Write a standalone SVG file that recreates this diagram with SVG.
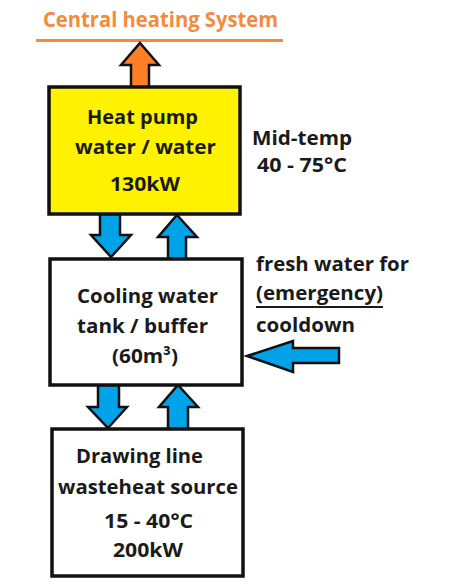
<svg xmlns="http://www.w3.org/2000/svg" width="450" height="587" viewBox="0 0 450 587">
<style>
.t{font-family:"Open Sans","Liberation Sans",sans-serif;font-weight:bold;font-size:20px;fill:#1a1a1a}
.box{stroke:#111;stroke-width:3.5}
.blue{fill:#00A2E8;stroke:#111;stroke-width:2.5;stroke-linejoin:miter}
.orange{fill:#FF7F27;stroke:#111;stroke-width:2.5;stroke-linejoin:miter}
</style>
<rect width="450" height="587" fill="#fff"/>
<g id="title">
<text class="t" x="43" y="27" textLength="235" lengthAdjust="spacingAndGlyphs" style="fill:#F58A3C;font-size:21px">Central heating System</text>
<line x1="36" y1="40.5" x2="283" y2="40.5" stroke="#F58A3C" stroke-width="3"/>
</g>
<g id="connectors">
<polygon class="orange" points="140,43 159,65 149,65 149,88 131,88 131,65 121,65"/>
<polygon class="blue" points="100,214 120,214 120,235 131,235 111,257 91,235 100,235"/>
<polygon class="blue" points="177,215 197,237 186,237 186,259 168,259 168,237 158,237"/>
<polygon class="blue" points="247,356 293,341 293,348 339,348 339,363 293,363 293,372"/>
<polygon class="blue" points="98,385 119,385 119,407 127,407 108,428 88,407 98,407"/>
<polygon class="blue" points="178,385 198,407 188,407 188,429 168,429 168,407 159,407"/>
</g>
<g id="heatpump">
<rect class="box" x="49" y="87" width="191" height="127" fill="#FFF200"/>
<text class="t" x="87" y="124" textLength="111" lengthAdjust="spacingAndGlyphs">Heat pump</text>
<text class="t" x="75" y="154" textLength="141" lengthAdjust="spacingAndGlyphs">water / water</text>
<text class="t" x="110" y="191" textLength="70" lengthAdjust="spacingAndGlyphs">130kW</text>
</g>
<g id="midtemp">
<text class="t" x="252" y="145" textLength="100" lengthAdjust="spacingAndGlyphs">Mid-temp</text>
<text class="t" x="257" y="172" textLength="90" lengthAdjust="spacingAndGlyphs">40 - 75°C</text>
</g>
<g id="tank">
<rect class="box" x="50" y="259" width="192" height="126" fill="#fff"/>
<text class="t" x="77" y="303" textLength="141" lengthAdjust="spacingAndGlyphs">Cooling water</text>
<text class="t" x="77" y="333" textLength="131" lengthAdjust="spacingAndGlyphs">tank / buffer</text>
<text class="t" x="112" y="363" textLength="66" lengthAdjust="spacingAndGlyphs">(60m³)</text>
</g>
<g id="freshwater">
<text class="t" x="256" y="271" textLength="153" lengthAdjust="spacingAndGlyphs">fresh water for</text>
<text class="t" x="256" y="300" textLength="127" lengthAdjust="spacingAndGlyphs">(emergency)</text>
<line x1="256" y1="307" x2="383" y2="307" stroke="#1a1a1a" stroke-width="1.8"/>
<text class="t" x="256" y="332" textLength="99" lengthAdjust="spacingAndGlyphs">cooldown</text>
</g>
<g id="source">
<rect class="box" x="52" y="429" width="191" height="147" fill="#fff"/>
<text class="t" x="76" y="463" textLength="127" lengthAdjust="spacingAndGlyphs">Drawing line</text>
<text class="t" x="58" y="494" textLength="180" lengthAdjust="spacingAndGlyphs">wasteheat source</text>
<text class="t" x="104" y="528" textLength="89" lengthAdjust="spacingAndGlyphs">15 - 40°C</text>
<text class="t" x="113" y="557" textLength="70" lengthAdjust="spacingAndGlyphs">200kW</text>
</g>
</svg>
